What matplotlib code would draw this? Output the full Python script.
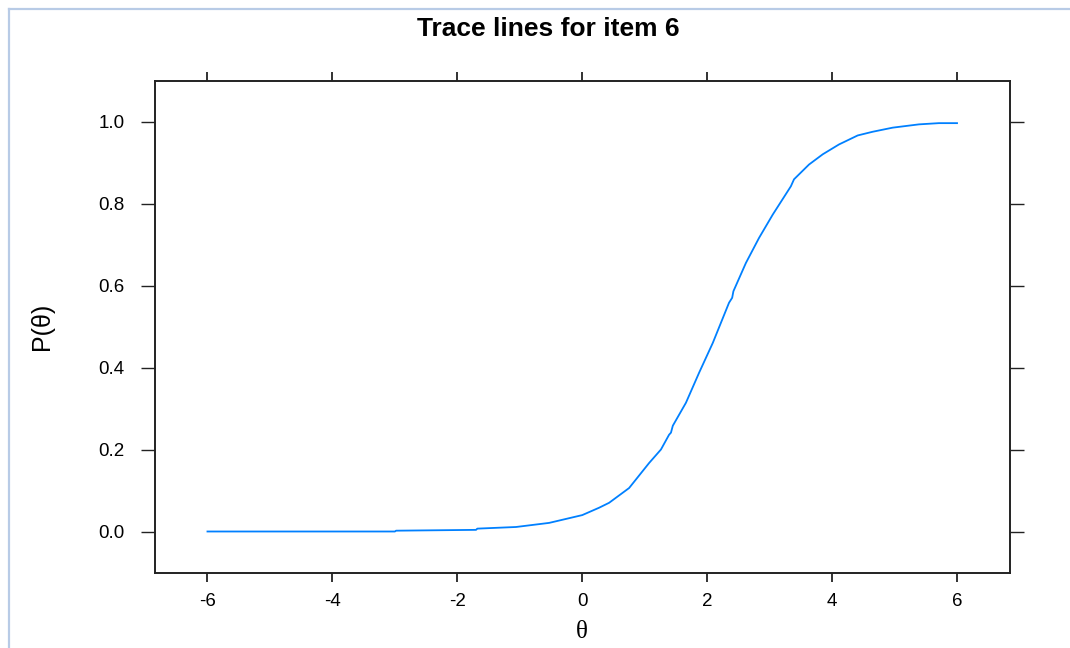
import matplotlib
matplotlib.use("Agg")
from matplotlib import pyplot as plt
from matplotlib.lines import Line2D

# values
theta = [-6.0, -3.0, -2.98, -1.70, -1.68, -1.06, -0.53, 0.0, 0.27, 0.43, 0.75,
         1.07, 1.26, 1.39, 1.42, 1.45, 1.66, 1.87, 2.09, 2.35, 2.40, 2.42, 2.62,
         2.83, 3.05, 3.34, 3.39, 3.47, 3.63, 3.85, 4.11, 4.41, 4.65, 4.97, 5.39,
         5.71, 6.0]
prob = [0.0, 0.0, 0.002, 0.004, 0.007, 0.011, 0.021, 0.040, 0.058, 0.070, 0.106,
        0.167, 0.200, 0.236, 0.241, 0.258, 0.314, 0.387, 0.460, 0.558, 0.570, 0.586,
        0.655, 0.716, 0.773, 0.842, 0.859, 0.871, 0.895, 0.920, 0.944, 0.966, 0.975,
        0.985, 0.993, 0.996, 0.996]

x_ticks = [-6, -4, -2, 0, 2, 4, 6]
y_ticks = [0.0, 0.2, 0.4, 0.6, 0.8, 1.0]

plt.rcParams["font.family"] = ["Liberation Sans", "DejaVu Sans"]

fig = plt.figure(figsize=(10.70, 6.48), dpi=100)
ax = fig.add_axes([155 / 1070, 1 - 572.5 / 648, (1009.5 - 155) / 1070, (572.5 - 80.5) / 648])

ax.plot(theta, prob, color="#0080ff", linewidth=1.3)

ax.set_xlim(-6.84, 6.84)
ax.set_ylim(-0.1, 1.1)
ax.set_xticks(x_ticks)
ax.set_xticklabels([str(t) for t in x_ticks])
ax.set_yticks(y_ticks)
ax.set_yticklabels(["%.1f" % t for t in y_ticks])

for s in ax.spines.values():
    s.set_linewidth(1.4)
    s.set_color("#222222")

ax.tick_params(axis="x", direction="out", length=6.5, width=1.3, top=True,
               labelsize=13.5, pad=8, color="#222222")
ax.tick_params(axis="y", direction="out", length=10, width=1.0, right=True,
               labelsize=13.5, pad=12, color="#222222")

ax.set_xlabel("θ", family=["Liberation Serif", "DejaVu Serif"], fontsize=18, labelpad=8)
ax.set_ylabel("P(θ)", fontsize=18, labelpad=32)

fig.text(548 / 1070, 1 - 29 / 648, "Trace lines for item 6", ha="center", va="center",
         fontsize=19, fontweight="bold")

# light page border at top and left
fig.add_artist(Line2D([9 / 1070, 9 / 1070], [0, 1 - 9 / 648], color="#b8cbe6", linewidth=1.6))
fig.add_artist(Line2D([9 / 1070, 1], [1 - 9 / 648, 1 - 9 / 648], color="#b8cbe6", linewidth=1.6))

fig.savefig("out.png", dpi=100)
